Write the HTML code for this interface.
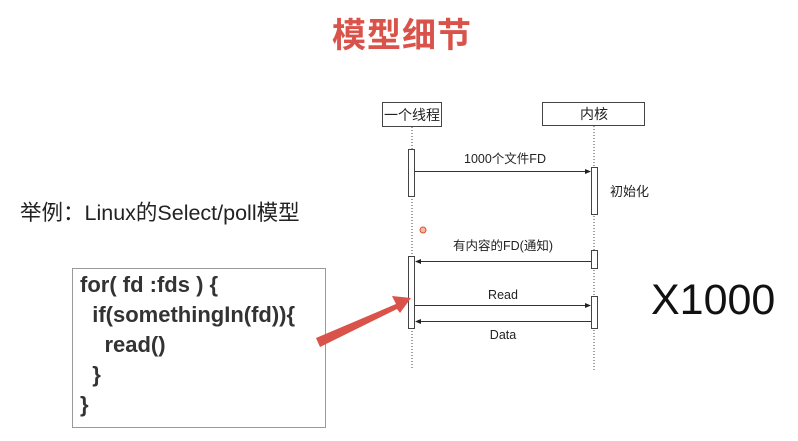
<!DOCTYPE html>
<html><head><meta charset="utf-8"><style>
html,body{margin:0;padding:0;background:#fff;}
body{width:798px;height:441px;position:relative;overflow:hidden;font-family:"Liberation Sans","Noto Sans CJK SC",sans-serif;}
.t{position:absolute;white-space:nowrap;}
</style></head><body>
<div class="t" style="left:332px;top:8px;font-size:34px;font-weight:bold;color:#d9534a;letter-spacing:1px;font-family:'Noto Sans CJK SC',sans-serif;">模型细节</div>
<div class="t" style="left:20px;top:196px;font-size:21.5px;color:#222;">举例：Linux的Select/poll模型</div>
<div class="t" style="left:651px;top:276px;font-size:43px;color:#111;">X1000</div>
<div style="position:absolute;left:72px;top:268px;width:254px;height:160px;border:1px solid #999;box-sizing:border-box;"></div>
<div class="t" style="left:80px;top:270px;font-size:22px;font-weight:bold;color:#333;line-height:30px;">for( fd :fds ) {<br>&nbsp;&nbsp;if(somethingIn(fd)){<br>&nbsp;&nbsp;&nbsp;&nbsp;read()<br>&nbsp;&nbsp;}<br>}</div>
<svg width="798" height="441" style="position:absolute;left:0;top:0" font-family="Liberation Sans,Noto Sans CJK SC,sans-serif">
<defs><marker id="a" markerWidth="6" markerHeight="6" refX="5" refY="3" orient="auto"><path d="M0,0.5L6,3L0,5.5z" fill="#222"/></marker></defs>
<rect x="382.5" y="102.5" width="59" height="24" fill="#fff" stroke="#444"/>
<text x="412" y="120" font-size="14" text-anchor="middle" fill="#222">一个线程</text>
<rect x="542.5" y="102.5" width="102" height="23" fill="#fff" stroke="#444"/>
<text x="594" y="119" font-size="14" text-anchor="middle" fill="#222">内核</text>
<line x1="412" y1="127" x2="412" y2="370" stroke="#444" stroke-dasharray="1,2"/>
<line x1="594" y1="126" x2="594" y2="372" stroke="#444" stroke-dasharray="1,2"/>
<g fill="#fff" stroke="#444">
<rect x="408.5" y="149.5" width="6" height="47"/>
<rect x="408.5" y="256.5" width="6" height="72"/>
<rect x="591.5" y="167.5" width="6" height="47"/>
<rect x="591.5" y="250.5" width="6" height="18"/>
<rect x="591.5" y="296.5" width="6" height="32"/>
</g>
<g stroke="#333" stroke-width="1">
<line x1="415" y1="171.5" x2="590" y2="171.5" marker-end="url(#a)"/>
<line x1="591" y1="261.5" x2="416" y2="261.5" marker-end="url(#a)"/>
<line x1="415" y1="305.5" x2="590" y2="305.5" marker-end="url(#a)"/>
<line x1="591" y1="321.5" x2="416" y2="321.5" marker-end="url(#a)"/>
</g>
<g font-size="12.5" fill="#222" text-anchor="middle">
<text x="505" y="163">1000个文件FD</text>
<text x="503" y="250">有内容的FD(通知)</text>
<text x="503" y="299">Read</text>
<text x="503" y="339">Data</text>
</g>
<text x="610" y="196" font-size="13" fill="#222">初始化</text>
<circle cx="423" cy="230" r="3" fill="#f5b8a0" stroke="#e05030"/>
<polygon points="316,338 396,304 392,296 411,298 400,313 397,309 320,347" fill="#d9534a"/>
</svg>
</body></html>
